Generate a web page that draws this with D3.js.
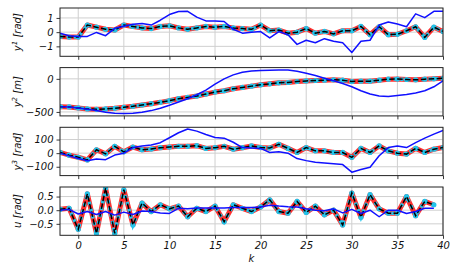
<!DOCTYPE html>
<html>
<head>
<meta charset="utf-8">
<script src="https://cdn.jsdelivr.net/npm/d3@7"></script>
<style>
  body { margin: 0; background: #fff; }
  text { font-family: "DejaVu Sans", sans-serif; font-style: italic; }
</style>
</head>
<body>
<svg id="chart" width="458" height="273"></svg>
<script>
// time steps
const kY = [-2,-1,0,1,2,3,4,5,6,7,8,9,10,11,12,13,14,15,16,17,18,19,20,21,22,23,24,25,26,27,28,29,30,31,32,33,34,35,36,37,38,39,40];
const kU = [-2,-1,0,1,2,3,4,5,6,7,8,9,10,11,12,13,14,15,16,17,18,19,20,21,22,23,24,25,26,27,28,29,30,31,32,33,34,35,36,37,38,39];

// reference / predicted (red, cyan, black dashed coincide)
const y1Ref = [-0.3,-0.35,-0.35,0.5,0.35,0.2,0.15,0.5,0.4,0.3,0.25,0.4,0.45,0.3,0.2,0.3,0.4,0.35,0.4,0.3,0.25,0.2,0.5,0.1,0.15,-0.07,0.0,0.25,-0.07,0.05,-0.12,0.1,0.1,0.4,-0.18,0.38,-0.18,-0.15,0.1,0.38,-0.37,0.35,0.05];
const y1Out = [-0.07,-0.25,-0.3,-0.3,-0.02,-0.25,0.27,0.42,0.55,0.61,0.5,0.84,1.24,1.45,1.47,1.06,0.79,0.79,0.75,0.2,-0.07,0.0,0.04,-0.41,0.04,-0.18,-0.86,-0.57,-0.75,-0.46,-0.64,-0.75,-1.43,-0.64,-0.57,0.5,0.72,0.57,0.38,1.29,1.02,1.47,1.47];

const y2Ref = [-420,-425,-440,-455,-460,-455,-445,-430,-415,-395,-375,-355,-330,-300,-280,-260,-230,-200,-180,-150,-130,-110,-90,-75,-60,-55,-40,-32,-25,-20,-15,-20,-40,-35,-35,-20,-5,-3,-10,-15,-5,0,8];
const y2Out = [-420,-425,-440,-460,-480,-505,-520,-525,-520,-505,-480,-445,-400,-350,-300,-240,-170,-80,0,60,100,120,125,130,135,135,115,85,50,10,-30,-70,-120,-180,-230,-260,-265,-250,-235,-215,-180,-120,-30];

const y3Ref = [5,-15,-30,-50,25,-5,50,10,45,25,30,40,45,50,50,55,35,40,50,29,40,53,41,38,65,35,5,41,17,17,5,5,-31,35,5,53,17,0,-7,35,5,29,41];
const y3Out = [0,-20,-40,-56,-43,-48,-14,0,41,53,60,77,113,150,178,162,137,115,110,80,41,38,35,5,10,0,-40,-55,-67,-72,-78,-84,-140,-120,-104,-19,41,53,41,77,110,140,166];

const uRef = [0.03,0.07,-0.70,0.60,-0.85,0.81,-0.85,0.75,-0.54,0.26,-0.05,0.20,0.05,0.15,-0.24,0.07,-0.05,0.15,-0.42,0.20,0.07,-0.05,0.12,0.38,-0.05,-0.11,0.32,-0.08,0.15,-0.17,0.0,-0.54,0.63,-0.26,0.57,0.05,-0.11,-0.11,0.5,-0.2,0.32,0.2];
const uOut = [0.0,0.03,-0.14,-0.05,-0.16,-0.05,-0.18,-0.07,-0.16,-0.03,-0.05,-0.1,-0.12,0.07,0.05,0.08,0.08,0.08,0.08,0.1,0.1,0.1,0.12,0.18,0.15,0.13,0.12,0.05,0.0,-0.02,0.05,-0.1,0.03,-0.12,0.0,-0.24,0.0,0.0,-0.12,-0.05,0.07,0.07];

// axis ranges and ticks
const xDomain = [-2, 40];
const xTicks = [0, 5, 10, 15, 20, 25, 30, 35, 40];
const y1Domain = [-1.7, 1.7],   y1Ticks = [-1, 0, 1];
const y2Domain = [-560, 170],   y2Ticks = [-500, 0];
const y3Domain = [-165, 190],   y3Ticks = [-100, 0, 100];
const uDomain = [-0.92, 0.85],  uTicks = [-0.5, 0.0, 0.5];

const panels = [
  {name: "y", sup: "1", unit: " [rad]", k: kY, ref: y1Ref, out: y1Out, domain: y1Domain, ticks: y1Ticks, fmt: d3.format("d")},
  {name: "y", sup: "2", unit: " [m]",   k: kY, ref: y2Ref, out: y2Out, domain: y2Domain, ticks: y2Ticks, fmt: d3.format("d")},
  {name: "y", sup: "3", unit: " [rad]", k: kY, ref: y3Ref, out: y3Out, domain: y3Domain, ticks: y3Ticks, fmt: d3.format("d")},
  {name: "u", sup: "",  unit: " [rad]", k: kU, ref: uRef,  out: uOut,  domain: uDomain,  ticks: uTicks,  fmt: d3.format(".1f")}
];

const left = 60, right = 443;
const tops = [8, 67.6, 127.3, 187];
const ph = 48.3;

const svg = d3.select("#chart");

const x = d3.scaleLinear().domain(xDomain).range([left, right]);

panels.forEach((p, i) => {
  const top = tops[i];
  const y = d3.scaleLinear().domain(p.domain).range([top + ph, top]);
  const g = svg.append("g");

  svg.append("clipPath").attr("id", "clip" + i)
    .append("rect").attr("x", left).attr("y", top).attr("width", right - left).attr("height", ph);

  // grid
  g.selectAll(".gx").data(xTicks).enter().append("line")
    .attr("x1", d => x(d)).attr("x2", d => x(d))
    .attr("y1", top).attr("y2", top + ph)
    .attr("stroke", "#cfcfcf").attr("stroke-width", 1);
  g.selectAll(".gy").data(p.ticks).enter().append("line")
    .attr("x1", left).attr("x2", right)
    .attr("y1", d => y(d)).attr("y2", d => y(d))
    .attr("stroke", "#cfcfcf").attr("stroke-width", 1);

  const pts = p.k.map((kk, j) => [kk, p.ref[j]]);
  const outPts = p.k.map((kk, j) => [kk, p.out[j]]);
  const line = d3.line().x(d => x(d[0])).y(d => y(d[1]));

  const lines = g.append("g").attr("clip-path", `url(#clip${i})`);
  lines.append("path").datum(pts).attr("d", line)
    .attr("fill", "none").attr("stroke", "#ff1a1a").attr("stroke-width", 5)
    .attr("stroke-linejoin", "round").attr("opacity", 0.9);
  lines.append("path").datum(pts).attr("d", line)
    .attr("fill", "none").attr("stroke", "#22c4ea").attr("stroke-width", 3.5)
    .attr("stroke-dasharray", "3,4");
  lines.selectAll(".dot").data(pts).enter().append("circle")
    .attr("cx", d => x(d[0])).attr("cy", d => y(d[1])).attr("r", 2.6)
    .attr("fill", "#22c4ea");
  lines.append("path").datum(pts).attr("d", line)
    .attr("fill", "none").attr("stroke", "#000").attr("stroke-width", 1.5)
    .attr("stroke-dasharray", "5.5,2.4");
  lines.append("path").datum(outPts).attr("d", line)
    .attr("fill", "none").attr("stroke", "#1010ff").attr("stroke-width", 1.5)
    .attr("stroke-linejoin", "round");

  // axes
  const yAxis = g.append("g").attr("transform", `translate(${left},0)`)
    .call(d3.axisLeft(y).tickValues(p.ticks).tickFormat(p.fmt).tickSize(3.5).tickPadding(3));
  const xAxis = g.append("g").attr("transform", `translate(0,${top + ph})`)
    .call(d3.axisBottom(x).tickValues(xTicks).tickSize(3.5).tickPadding(3.5)
      .tickFormat(i === panels.length - 1 ? d3.format("d") : ""));
  [yAxis, xAxis].forEach(a => {
    a.select(".domain").remove();
    a.selectAll("line").attr("stroke", "#222").attr("stroke-width", 0.9);
    a.selectAll("text").attr("font-size", 10).attr("fill", "#111")
      .style("font-family", "DejaVu Sans").style("font-style", "italic");
  });

  // frame
  g.append("rect").attr("x", left).attr("y", top).attr("width", right - left).attr("height", ph)
    .attr("fill", "none").attr("stroke", "#222").attr("stroke-width", 1);

  // y label
  const lab = g.append("text")
    .attr("transform", `translate(21,${top + ph / 2}) rotate(-90)`)
    .attr("text-anchor", "middle").attr("font-size", 10).attr("fill", "#111");
  lab.append("tspan").text(p.name);
  if (p.sup) lab.append("tspan").attr("font-size", 7).attr("dy", -4).text(p.sup);
  lab.append("tspan").attr("dy", p.sup ? 4 : 0).text(p.unit);
});

svg.append("text").attr("x", (left + right) / 2).attr("y", 262)
  .attr("text-anchor", "middle").attr("font-size", 10).attr("fill", "#111").text("k");
</script>
</body>
</html>
